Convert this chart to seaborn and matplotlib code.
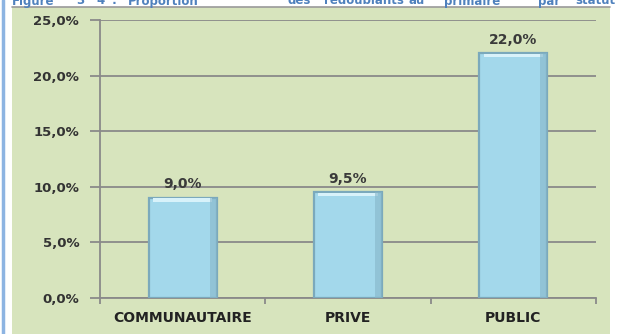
import matplotlib
matplotlib.use("Agg")
import matplotlib.pyplot as plt
import matplotlib.patches as mpatches
import seaborn as sns
import pandas as pd
from matplotlib.ticker import FuncFormatter, FixedLocator

# Données : proportion des redoublants au primaire par statut
statuts = ["COMMUNAUTAIRE", "PRIVE", "PUBLIC"]
proportions = [9.0, 9.5, 22.0]
yticks = [0, 5, 10, 15, 20, 25]

df = pd.DataFrame({"statut": statuts, "proportion": proportions})

sns.set_theme(style="white")
plt.rcParams["font.family"] = ["DejaVu Sans"]

W, H = 617, 334
fig = plt.figure(figsize=(W / 100, H / 100), dpi=100)
fig.patch.set_facecolor("white")

# Fond vert du cadre du graphique
panel = mpatches.Rectangle((12 / W, 0), (610 - 12) / W, 1 - 7 / H,
                           transform=fig.transFigure, facecolor="#D7E4BD",
                           edgecolor="none", zorder=-5)
fig.patches.append(panel)
fig.add_artist(plt.Line2D([12 / W, 610 / W], [1 - 7 / H, 1 - 7 / H],
                          transform=fig.transFigure, color="#9a9a9a", lw=1.2,
                          zorder=-4))
# Filet bleu à gauche de la page
fig.add_artist(plt.Line2D([3 / W, 3 / W], [0, 1], transform=fig.transFigure,
                          color="#8DB4E2", lw=2.5, zorder=-4))

# Titre (justifié, coupé en haut de l'image)
title_words = [("Figure", 12), ("3", 76), ("4", 96), (":", 112), ("Proportion", 128),
               ("des", 287), ("redoublants", 324), ("au", 408), ("primaire", 444),
               ("par", 538), ("statut", 575)]
for word, x in title_words:
    fig.text(x / W, 1 - 4.5 / H, word, color="#4F81BD", fontsize=8.5,
             fontweight="bold", ha="left", va="baseline")

ax = fig.add_axes([100 / W, 1 - 298 / H, (596 - 100) / W, (298 - 20) / H])
ax.set_facecolor("none")

sns.barplot(data=df, x="statut", y="proportion", ax=ax, width=0.41,
            color="#A3D8EB", edgecolor="#7BA9BC", linewidth=1.6, zorder=3,
            saturation=1)

# Reflet clair en haut de chaque barre et ombre sur le côté droit
for bar in list(ax.patches):
    x0, w, h = bar.get_x(), bar.get_width(), bar.get_height()
    ax.add_patch(mpatches.Rectangle((x0 + w * 0.06, h - 0.35), w * 0.88, 0.3,
                                    facecolor="#D8F2FA", edgecolor="none", zorder=4))
    ax.add_patch(mpatches.Rectangle((x0 + w * 0.9, 0), w * 0.1, h,
                                    facecolor="#86B5C8", edgecolor="none", zorder=4,
                                    alpha=0.6))

for i, v in enumerate(proportions):
    ax.text(i, v + 0.6, f"{v:.1f}%".replace(".", ","), ha="center", va="bottom",
            fontsize=10, fontweight="bold", color="#3a3a3a", zorder=5)

ax.set_ylim(0, 25)
ax.set_xlim(-0.5, 2.5)
ax.yaxis.set_major_locator(FixedLocator(yticks))
ax.yaxis.set_major_formatter(FuncFormatter(lambda v, p: f"{v:.1f}%".replace(".", ",")))
ax.grid(axis="y", color="#8a8a8a", lw=1.3, zorder=1)
ax.set_axisbelow(True)

for s in ["top", "right"]:
    ax.spines[s].set_visible(False)
for s in ["left", "bottom"]:
    ax.spines[s].set_color("#8a8a8a")
    ax.spines[s].set_linewidth(1.3)

ax.set_xlabel("")
ax.set_ylabel("")
ax.tick_params(axis="y", direction="out", length=7, width=1.3, color="#8a8a8a",
               labelsize=9.5, labelcolor="#333333", pad=8, left=True)
ax.tick_params(axis="x", which="major", length=0, labelsize=10,
               labelcolor="#222222", pad=9)
ax.set_xticks([-0.5, 0.5, 1.5, 2.5], minor=True)
ax.tick_params(axis="x", which="minor", direction="out", length=4, width=1.3,
               color="#8a8a8a", bottom=True)
for lab in ax.get_yticklabels() + ax.get_xticklabels():
    lab.set_fontweight("bold")

fig.savefig("out.png", dpi=100)
